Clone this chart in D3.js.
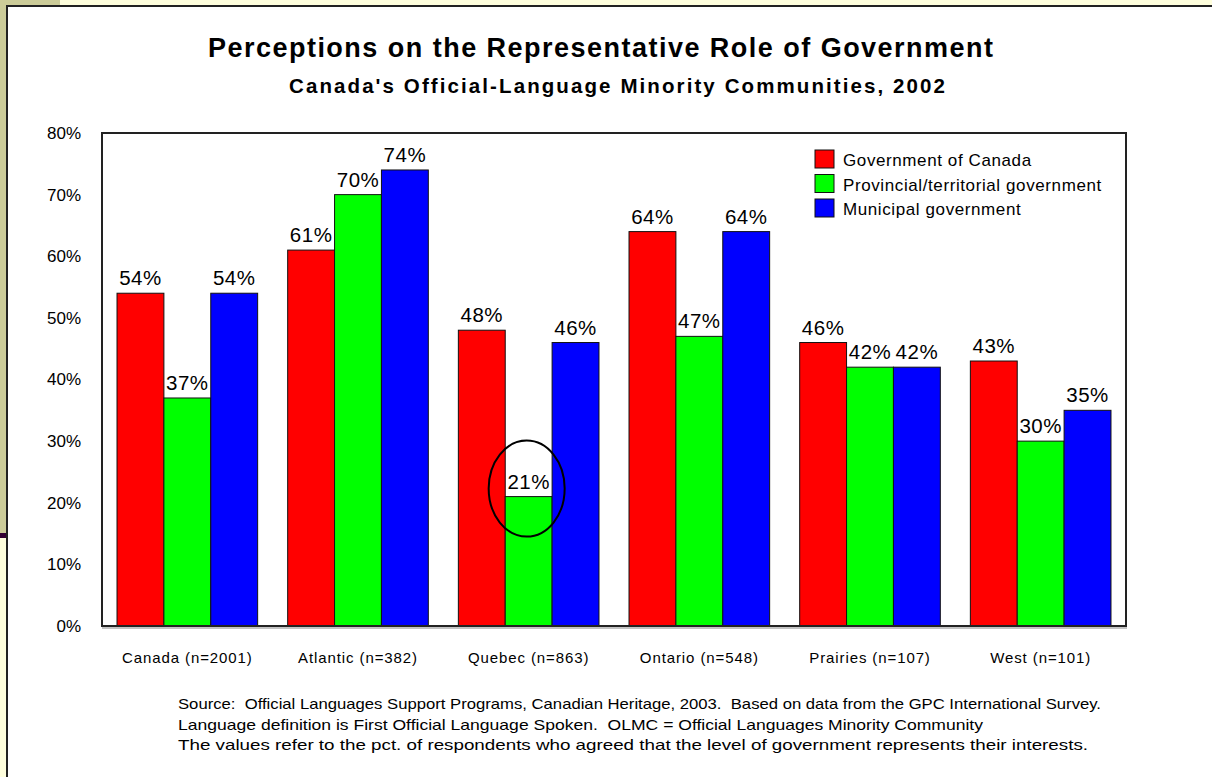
<!DOCTYPE html>
<html>
<head>
<meta charset="utf-8">
<script src="https://cdn.jsdelivr.net/npm/d3@7"></script>
<style>
  html, body { margin: 0; padding: 0; background: #fff; }
  svg { display: block; font-family: "Liberation Sans", Arial, sans-serif; }
  text { white-space: pre; }
</style>
</head>
<body>
<svg id="chart" width="1212" height="777"></svg>
<script>
// Regions surveyed (x axis categories)
const categories = ["Canada (n=2001)", "Atlantic (n=382)", "Quebec (n=863)",
                    "Ontario (n=548)", "Prairies (n=107)", "West (n=101)"];
// Level of government (series)
const seriesNames = ["Government of Canada", "Provincial/territorial government", "Municipal government"];
// Percent agreeing that the level of government represents their interests
const federalValues    = [54, 61, 48, 64, 46, 43];
const provincialValues = [37, 70, 21, 47, 42, 30];
const municipalValues  = [54, 74, 46, 64, 42, 35];
const yTicks = [0, 10, 20, 30, 40, 50, 60, 70, 80];
const seriesColors = ["#ff0000", "#00ff00", "#0000ff"];
const sourceLines = [
  "Source:  Official Languages Support Programs, Canadian Heritage, 2003.  Based on data from the GPC International Survey.",
  "Language definition is First Official Language Spoken.  OLMC = Official Languages Minority Community",
  "The values refer to the pct. of respondents who agreed that the level of government represents their interests."
];
// Set widths of the note lines (layout)
const sourceWidths = [923, 805, 910];

const seriesValues = [federalValues, provincialValues, municipalValues];
const svg = d3.select("#chart");

// Slide background frame
svg.append("rect").attr("x", 0).attr("y", 0).attr("width", 1212).attr("height", 777).attr("fill", "#ffffdd");
svg.append("rect").attr("x", 0).attr("y", 0).attr("width", 60).attr("height", 6).attr("fill", "#cccc99");
svg.append("rect").attr("x", 0).attr("y", 0).attr("width", 7).attr("height", 533).attr("fill", "#cccc99");
svg.append("rect").attr("x", 0).attr("y", 533).attr("width", 7).attr("height", 5).attr("fill", "#330033");
svg.append("rect").attr("x", 8).attr("y", 7).attr("width", 1204).attr("height", 770).attr("fill", "#ffffff");
svg.append("line").attr("x1", 6).attr("x2", 1212).attr("y1", 6).attr("y2", 6).attr("stroke", "#222").attr("stroke-width", 2);
svg.append("line").attr("x1", 7).attr("x2", 7).attr("y1", 6).attr("y2", 777).attr("stroke", "#222").attr("stroke-width", 2);

// Titles
svg.append("text").attr("x", 208).attr("y", 57)
  .attr("font-size", 27).attr("font-weight", "bold").attr("fill", "#000")
  .attr("textLength", 785).attr("lengthAdjust", "spacing")
  .text("Perceptions on the Representative Role of Government");
svg.append("text").attr("x", 289).attr("y", 93)
  .attr("font-size", 20.5).attr("font-weight", "bold").attr("fill", "#000")
  .attr("textLength", 656).attr("lengthAdjust", "spacing")
  .text("Canada's Official-Language Minority Communities, 2002");

// Plot area
const plot = { left: 102, top: 133, right: 1126, bottom: 626 };
const x0 = d3.scaleBand().domain(categories).range([plot.left, plot.right]).paddingInner(0.176).paddingOuter(0.088);
const x1 = d3.scaleBand().domain(d3.range(seriesNames.length)).range([0, x0.bandwidth()]);
const y = d3.scaleLinear().domain([0, 80]).range([plot.bottom, plot.top]);

// Y axis labels
const yAxis = d3.axisLeft(y).tickValues(yTicks).tickFormat(d => d + "%").tickSize(0).tickPadding(21);
const yg = svg.append("g").attr("transform", `translate(${plot.left},0)`).call(yAxis);
yg.select(".domain").remove();
yg.selectAll("text").attr("font-size", 17).attr("fill", "#000").attr("font-family", "Liberation Sans, Arial, sans-serif");

// Bars
const groups = svg.append("g").selectAll("g").data(categories).join("g")
  .attr("transform", d => `translate(${x0(d)},0)`);
groups.each(function (cat, ci) {
  const g = d3.select(this);
  seriesValues.forEach((vals, si) => {
    const v = vals[ci];
    g.append("rect")
      .attr("x", x1(si)).attr("y", y(v))
      .attr("width", x1.bandwidth()).attr("height", y(0) - y(v))
      .attr("fill", seriesColors[si]).attr("stroke", "#111").attr("stroke-width", 1);
    g.append("text")
      .attr("x", x1(si) + x1.bandwidth() / 2).attr("y", y(v) - 8)
      .attr("text-anchor", "middle").attr("font-size", 20.5).attr("letter-spacing", 0.5).attr("fill", "#000")
      .text(v + "%");
  });
});

// Frame around the plot
svg.append("rect").attr("x", plot.left).attr("y", plot.top)
  .attr("width", plot.right - plot.left).attr("height", plot.bottom - plot.top)
  .attr("fill", "none").attr("stroke", "#222").attr("stroke-width", 2);
svg.append("line").attr("x1", plot.left).attr("x2", plot.right + 1)
  .attr("y1", plot.bottom + 2).attr("y2", plot.bottom + 2).attr("stroke", "#888").attr("stroke-width", 1);

// X axis labels
const xAxis = d3.axisBottom(x0).tickSize(0).tickPadding(26);
const xg = svg.append("g").attr("transform", `translate(0,${plot.bottom})`).call(xAxis);
xg.select(".domain").remove();
xg.selectAll("text").attr("font-size", 15).attr("letter-spacing", 0.9).attr("fill", "#000")
  .attr("font-family", "Liberation Sans, Arial, sans-serif");

// Highlight the Quebec provincial figure
const qx = x0(categories[2]) + x1(1) + x1.bandwidth() / 2;
svg.append("ellipse").attr("cx", qx - 2).attr("cy", y(provincialValues[2]) - 8)
  .attr("rx", 38).attr("ry", 48).attr("fill", "none").attr("stroke", "#000").attr("stroke-width", 2);

// Legend
const legend = svg.append("g").attr("transform", "translate(815,150)");
seriesNames.forEach((name, i) => {
  legend.append("rect").attr("x", 0).attr("y", i * 24.5).attr("width", 19).attr("height", 18)
    .attr("fill", seriesColors[i]).attr("stroke", "#111").attr("stroke-width", 1);
  legend.append("text").attr("x", 28).attr("y", i * 24.5 + 16).attr("font-size", 17)
    .attr("letter-spacing", 0.6).attr("fill", "#000").text(name);
});

// Source notes
svg.append("g").selectAll("text").data(sourceLines).join("text")
  .attr("x", 178).attr("y", (d, i) => 709 + i * 20.5)
  .attr("font-size", 15).attr("fill", "#000")
  .attr("textLength", (d, i) => sourceWidths[i]).attr("lengthAdjust", "spacingAndGlyphs")
  .text(d => d);
</script>
</body>
</html>
